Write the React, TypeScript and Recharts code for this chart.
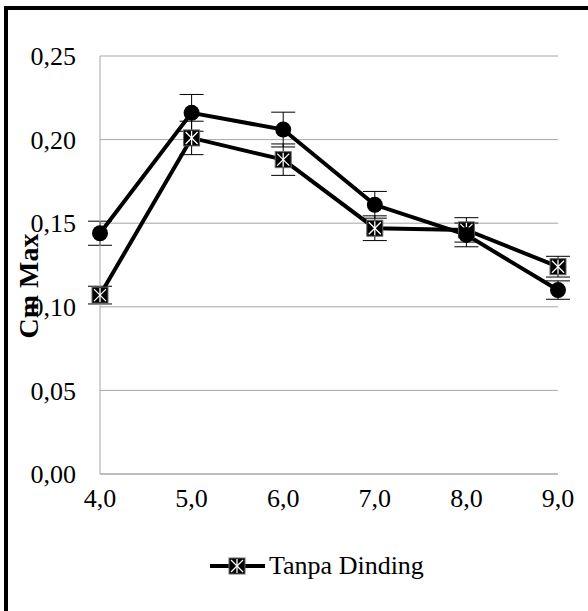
import { LineChart, Line, XAxis, YAxis, CartesianGrid, ErrorBar } from "recharts";

const categories = ["4,0", "5,0", "6,0", "7,0", "8,0", "9,0"];
// series with circle markers (no legend entry in the original)
const denganValues = [0.144, 0.216, 0.206, 0.161, 0.143, 0.110];
const denganErrors = [0.0072, 0.011, 0.0104, 0.008, 0.0071, 0.0055];
// "Tanpa Dinding" series, square/star markers
const tanpaValues = [0.107, 0.201, 0.188, 0.147, 0.146, 0.124];
const tanpaErrors = [0.0053, 0.010, 0.0094, 0.0074, 0.0073, 0.0062];
const yTicks = [0, 0.05, 0.1, 0.15, 0.2, 0.25];

const data = categories.map((c, i) => ({
  x: c,
  dengan: denganValues[i],
  denganErr: denganErrors[i],
  tanpa: tanpaValues[i],
  tanpaErr: tanpaErrors[i],
}));

const FONT = "'Liberation Serif', 'Times New Roman', serif";
const GRID = "#a6a6a6";

const CircleDot = (props: any) => {
  const { cx, cy, index } = props;
  if (cx == null || cy == null) return null;
  return <circle key={`c${index}`} cx={cx} cy={cy} r={8} fill="#000" />;
};

const StarSquare = ({ cx, cy, k }: { cx: number; cy: number; k?: string }) => (
  <g key={k}>
    <rect x={cx - 8} y={cy - 8} width={16} height={16} fill="#000" stroke="#666" strokeWidth={1} />
    <line x1={cx - 6} y1={cy - 6} x2={cx + 6} y2={cy + 6} stroke="#fff" strokeWidth={1.3} />
    <line x1={cx - 6} y1={cy + 6} x2={cx + 6} y2={cy - 6} stroke="#fff" strokeWidth={1.3} />
    <line x1={cx} y1={cy - 7} x2={cx} y2={cy + 7} stroke="#fff" strokeWidth={1.3} />
  </g>
);

const SquareDot = (props: any) => {
  const { cx, cy, index } = props;
  if (cx == null || cy == null) return null;
  return <StarSquare key={`s${index}`} k={`s${index}`} cx={cx} cy={cy} />;
};

const fmtY = (v: number) => v.toFixed(2).replace(".", ",");

export default function App() {
  return (
    <div style={{ position: "absolute", left: 0, top: 0, width: 588, height: 611, overflow: "hidden", background: "#fff", fontFamily: FONT }}>
      <div style={{ position: "absolute", left: 4, top: 6, width: 700, height: 700, borderTop: "4px solid #000", borderLeft: "4px solid #000" }} />
      <LineChart width={588} height={611} data={data} margin={{ top: 56, right: 30, bottom: 87, left: 10 }}>
        <CartesianGrid horizontal vertical={false} stroke={GRID} strokeWidth={1} />
        <XAxis
          dataKey="x"
          height={50}
          axisLine={{ stroke: GRID }}
          tickLine={false}
          tickSize={6}
          tickMargin={9}
          tick={{ fontSize: 26, fill: "#000", fontFamily: FONT }}
        />
        <YAxis
          width={90}
          domain={[0, 0.25]}
          ticks={yTicks}
          tickFormatter={fmtY}
          axisLine={{ stroke: GRID }}
          tickLine={false}
          tickSize={6}
          tickMargin={18}
          tick={{ fontSize: 26, fill: "#000", fontFamily: FONT }}
          label={{
            content: () => (
              <text
                x={28}
                y={286}
                transform="rotate(-90, 28, 286)"
                textAnchor="middle"
                dominantBaseline="central"
                fontSize={28}
                fontWeight="bold"
                fontFamily={FONT}
                fill="#000"
              >
                Cm Max
              </text>
            ),
          }}
        />
        <Line
          dataKey="tanpa"
          name="Tanpa Dinding"
          stroke="#000"
          strokeWidth={4}
          dot={SquareDot}
          activeDot={false}
          isAnimationActive={false}
        >
          <ErrorBar dataKey="tanpaErr" direction="y" width={12} stroke="#000" strokeWidth={1} />
        </Line>
        <Line
          dataKey="dengan"
          name="Dengan Dinding"
          stroke="#000"
          strokeWidth={4}
          dot={CircleDot}
          activeDot={false}
          isAnimationActive={false}
        >
          <ErrorBar dataKey="denganErr" direction="y" width={12} stroke="#000" strokeWidth={1} />
        </Line>
      </LineChart>
      <div style={{ position: "absolute", left: 208, top: 549, display: "flex", alignItems: "center", fontSize: 26, color: "#000", fontFamily: FONT }}>
        <svg width={58} height={20} style={{ display: "block" }}>
          <line x1={2} y1={10} x2={57} y2={10} stroke="#000" strokeWidth={4} />
          <StarSquare cx={29} cy={10} />
        </svg>
        <span style={{ marginLeft: 3, lineHeight: "34px" }}>Tanpa Dinding</span>
      </div>
    </div>
  );
}
